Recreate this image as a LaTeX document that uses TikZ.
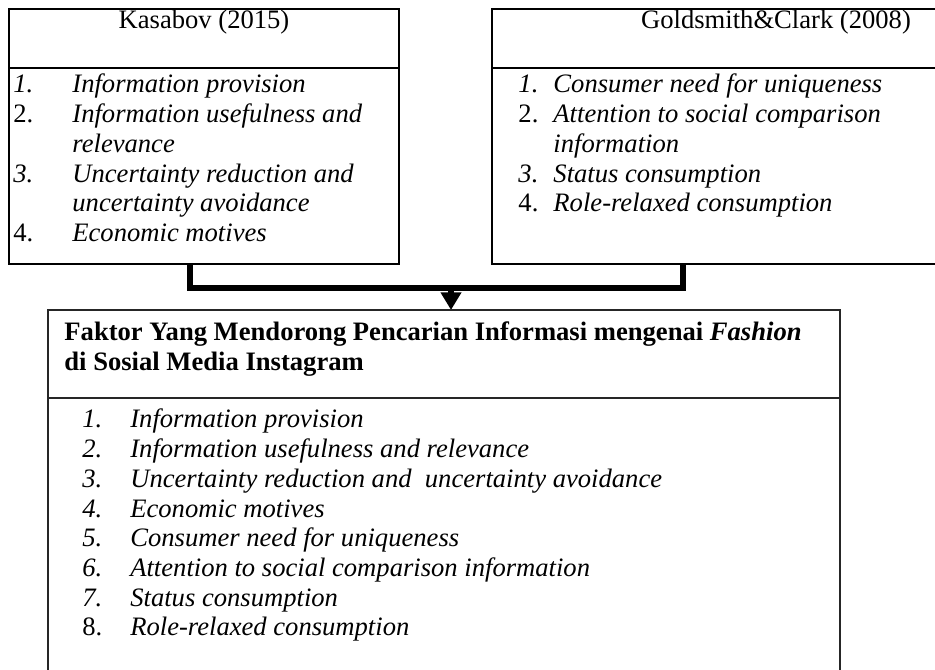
\documentclass[tikz,border=0pt]{standalone}
\usepackage{fontspec}
\setmainfont{Liberation Serif}
\usepackage{tikz}
\usetikzlibrary{positioning}
\usetikzlibrary{arrows.meta}

\begin{document}
\begin{tikzpicture}[
  x=0.451pt, y=-0.451pt,
  font=\fontsize{12}{13.4}\selectfont,
  frame/.style={draw, line width=0.9pt},
  thinframe/.style={draw=black!85, line width=0.6pt},
  head/.style={anchor=base, inner sep=0pt},
  list/.style={anchor=base west, inner sep=0pt, align=left},
  link/.style={line width=3pt},
  arrow/.style={line width=2.6pt, -{Triangle[width=9pt, length=8pt]}}
]
\useasboundingbox (0,0) rectangle (935,670);

% source boxes
\draw[frame] (9,9) rectangle (399,264);
\draw[frame] (9,68) -- (399,68);
\draw[frame] (935,9) -| (492,264) -- (935,264);
\draw[frame] (492,68) -- (935,68);

\node[head] (kas)  at (204,29) {Kasabov (2015)};
\node[head] (gold) at (776,29) {Goldsmith\&Clark (2008)};

\node[list] (kasList) at (13,93) {\begin{tabular}[t]{@{}p{26.6pt}@{}l@{}}
  \textit{1.} & \textit{Information provision}\\
  2.          & \textit{Information usefulness and}\\
              & \textit{relevance}\\
  \textit{3.} & \textit{Uncertainty reduction and}\\
              & \textit{uncertainty avoidance}\\
  4.          & \textit{Economic motives}
\end{tabular}};

\node[list] (goldList) at (518,93) {\begin{tabular}[t]{@{}p{15.8pt}@{}l@{}}
  \textit{1.} & \textit{Consumer need for uniqueness}\\
  2.          & \textit{Attention to social comparison}\\
              & \textit{information}\\
  \textit{3.} & \textit{Status consumption}\\
  4.          & \textit{Role-relaxed consumption}
\end{tabular}};

% connector
\coordinate (kasFoot)   at (190,264);
\coordinate (goldFoot)  at (683,264);
\coordinate (join)      at (451,288);
\coordinate (faktorTop) at (451,310);

\draw[link] (kasFoot) |- (join) -| (goldFoot);
\draw[arrow] (join) -- (faktorTop);

% result box
\draw[thinframe] (48,670) |- (840,310) -- (840,670);
\draw[thinframe] (48,398) -- (840,398);

\node[list] (faktor) at (64,341) {\begin{tabular}[t]{@{}l@{}}
  \textbf{Faktor Yang Mendorong Pencarian Informasi mengenai \textit{Fashion}}\\
  \textbf{di Sosial Media Instagram}
\end{tabular}};

\node[list] (faktorList) at (82,428) {\begin{tabular}[t]{@{}p{21.6pt}@{}l@{}}
  \textit{1.} & \textit{Information provision}\\
  \textit{2.} & \textit{Information usefulness and relevance}\\
  \textit{3.} & \textit{Uncertainty reduction and\ \ uncertainty avoidance}\\
  \textit{4.} & \textit{Economic motives}\\
  \textit{5.} & \textit{Consumer need for uniqueness}\\
  \textit{6.} & \textit{Attention to social comparison information}\\
  \textit{7.} & \textit{Status consumption}\\
  8.          & \textit{Role-relaxed consumption}
\end{tabular}};

\end{tikzpicture}
\end{document}
